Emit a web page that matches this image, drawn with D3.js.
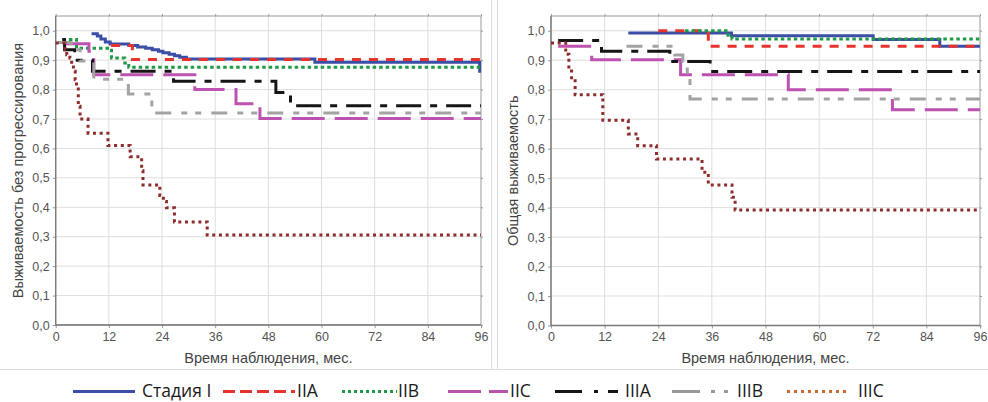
<!DOCTYPE html>
<html>
<head>
<meta charset="utf-8">
<script src="https://cdn.jsdelivr.net/npm/d3@7"></script>
<style>
  html, body { margin: 0; padding: 0; background: #fff; }
  svg { display: block; }
</style>
</head>
<body>
<svg id="chart" width="988" height="402"></svg>
<script>
// ---- Axis ticks and labels ----
const monthTicks = [0, 12, 24, 36, 48, 60, 72, 84, 96];
const probTicks = [0, 0.1, 0.2, 0.3, 0.4, 0.5, 0.6, 0.7, 0.8, 0.9, 1.0];
const probLabels = ["0,0", "0,1", "0,2", "0,3", "0,4", "0,5", "0,6", "0,7", "0,8", "0,9", "1,0"];
const xTitle = "Время наблюдения, мес.";
const pfsTitle = "Выживаемость без прогрессирования";
const osTitle = "Общая выживаемость";
const seriesNames = ["Стадия I", "IIA", "IIB", "IIC", "IIIA", "IIIB", "IIIC"];

// ---- Progression-free survival, [month, proportion] step points ----
const pfsI = [[8.1, 0.99], [9.4, 0.982], [10.2, 0.972], [11.2, 0.962], [12.3, 0.955], [16.5, 0.95],
  [18.5, 0.945], [20.3, 0.94], [21.8, 0.935], [23.2, 0.93], [24.2, 0.925], [25.6, 0.92],
  [26.8, 0.915], [28, 0.91], [29.5, 0.904], [58.5, 0.893], [95.7, 0.862], [96, 0.862]];
const pfsIIA = [[12.5, 0.95], [17.3, 0.902], [96, 0.902]];
const pfsIIB = [[1.5, 0.97], [4.7, 0.94], [12.6, 0.907], [15.6, 0.89], [16.5, 0.876], [96, 0.876]];
const pfsIIC = [[2.2, 0.956], [7.5, 0.93], [8.6, 0.85], [31.4, 0.80], [40.7, 0.752], [46.1, 0.702], [96, 0.702]];
const pfsIIIA = [[1.5, 0.97], [2.0, 0.935], [4.3, 0.90], [8.3, 0.862], [26.6, 0.828], [49.7, 0.79], [53, 0.745], [96, 0.745]];
const pfsIIIB = [[0.5, 0.96], [3.5, 0.935], [5.5, 0.897], [8.6, 0.835], [16.4, 0.785], [21.7, 0.72], [96, 0.72]];
const pfsIIIC = [[0, 0.958], [2.1, 0.935], [2.5, 0.918], [3.2, 0.907], [3.6, 0.884], [4.0, 0.862],
  [4.4, 0.833], [4.7, 0.811], [5.1, 0.743], [5.5, 0.70], [7.3, 0.652], [11.8, 0.61], [16.8, 0.572],
  [19.4, 0.524], [19.7, 0.476], [23.5, 0.44], [24.3, 0.42], [25.0, 0.398], [26.8, 0.35],
  [34.2, 0.306], [96, 0.306]];

// ---- Overall survival, [month, proportion] step points ----
const osI = [[17.3, 0.992], [40.4, 0.983], [72.1, 0.97], [87, 0.947], [96, 0.947]];
const osIIA = [[24, 1.0], [35.2, 0.947], [96, 0.947]];
const osIIB = [[30, 1.0], [39.6, 0.985], [40.5, 0.972], [96, 0.972]];
const osIIC = [[1.6, 0.947], [9.1, 0.902], [29, 0.851], [53.1, 0.80], [76.4, 0.732], [96, 0.732]];
const osIIIA = [[1.6, 0.967], [11.3, 0.93], [26.6, 0.896], [35.6, 0.862], [96, 0.862]];
const osIIIB = [[16.9, 0.947], [27.7, 0.918], [29.5, 0.896], [30.5, 0.84], [31.1, 0.768], [96, 0.768]];
const osIIIC = [[0, 0.958], [3.3, 0.92], [4.0, 0.87], [4.6, 0.83], [5.4, 0.783], [11.6, 0.696],
  [17.3, 0.65], [19.4, 0.61], [23.6, 0.565], [33.8, 0.52], [35.2, 0.477], [40.5, 0.435],
  [41.2, 0.392], [96, 0.392]];

// ---- Line styles per stage ----
const lineStyles = [
  { color: "#3b4ea6", dash: null },
  { color: "#e5332e", dash: "9,8" },
  { color: "#1f9a46", dash: "3.5,3" },
  { color: "#bd52b1", dash: "33,10" },
  { color: "#151515", dash: "25,9,7,9" },
  { color: "#a3a3a3", dash: "16,10,6,8,6,10" },
  { color: "#8c2c2c", dash: "3,3.7" }
];
const legendStyles = [
  { color: "#3b4ea6", dash: null },
  { color: "#e5332e", dash: "12,5" },
  { color: "#1f9a46", dash: "3,3" },
  { color: "#b653ad", dash: "33,8" },
  { color: "#151515", dash: "27,12,4,10,10,60" },
  { color: "#999999", dash: "28,11,4,9,4,60" },
  { color: "#c96b2e", dash: "3,4" }
];
// legend slot layout: sample line start/end and label x
const legendLayout = [
  [73, 135, 142], [223, 295, 297], [342, 397, 398], [448, 508, 510],
  [555, 618, 625], [672, 730, 737], [787, 850, 858]
];

const svg = d3.select("#chart");
const tickFont = "'Liberation Sans', Arial, sans-serif";

const panels = [
  { series: [pfsI, pfsIIA, pfsIIB, pfsIIC, pfsIIIA, pfsIIIB, pfsIIIC], yTitle: pfsTitle,
    left: 55.7, right: 481, top: 16, bottom: 325, yTitleX: 18 },
  { series: [osI, osIIA, osIIB, osIIC, osIIIA, osIIIB, osIIIC], yTitle: osTitle,
    left: 551, right: 980, top: 16, bottom: 325.5, yTitleX: 513 }
];

// panel separators
const sep = svg.append("g").attr("stroke", "#dcdcdc").attr("stroke-width", 1);
sep.append("line").attr("x1", 491.5).attr("x2", 491.5).attr("y1", 0).attr("y2", 369);
sep.append("line").attr("x1", 497.5).attr("x2", 497.5).attr("y1", 0).attr("y2", 369);
sep.append("line").attr("x1", 0).attr("x2", 988).attr("y1", 369.5).attr("y2", 369.5);

panels.forEach(p => {
  const x = d3.scaleLinear().domain([0, 96]).range([p.left, p.right]);
  const y = d3.scaleLinear().domain([0, 1.05]).range([p.bottom, p.top]);
  const g = svg.append("g");

  // grid
  const grid = g.append("g").attr("stroke", "#dedede").attr("stroke-width", 1);
  grid.selectAll(".gx").data(monthTicks.slice(1, -1)).join("line")
    .attr("x1", d => x(d)).attr("x2", d => x(d)).attr("y1", p.top).attr("y2", p.bottom);
  grid.selectAll(".gy").data(probTicks.slice(1)).join("line")
    .attr("x1", p.left).attr("x2", p.right).attr("y1", d => y(d)).attr("y2", d => y(d));

  // axes
  const fmtY = d => probLabels[probTicks.indexOf(d)];
  const ax = g.append("g").attr("transform", `translate(0,${p.bottom})`)
    .call(d3.axisBottom(x).tickValues(monthTicks).tickSize(3).tickPadding(4));
  const ay = g.append("g").attr("transform", `translate(${p.left},0)`)
    .call(d3.axisLeft(y).tickValues(probTicks).tickFormat(fmtY).tickSize(3).tickPadding(3));
  const at = g.append("g").attr("transform", `translate(0,${p.top})`)
    .call(d3.axisTop(x).tickValues(monthTicks).tickSize(2).tickFormat(""));
  const ar = g.append("g").attr("transform", `translate(${p.right},0)`)
    .call(d3.axisRight(y).tickValues(probTicks).tickSize(2).tickFormat(""));
  [ax, ay, at, ar].forEach(a => {
    a.select(".domain").remove();
    a.selectAll("line").attr("stroke", "#999");
    a.selectAll("text").attr("fill", "#555")
      .style("font-family", tickFont).style("font-size", "12.5px");
  });

  // frame
  g.append("rect").attr("x", p.left).attr("y", p.top)
    .attr("width", p.right - p.left).attr("height", p.bottom - p.top)
    .attr("fill", "none").attr("stroke", "#9a9a9a").attr("stroke-width", 1);
  g.append("path").attr("d", `M${p.left},${p.top}V${p.bottom}H${p.right}`)
    .attr("fill", "none").attr("stroke", "#7a7a7a").attr("stroke-width", 1.3);

  // survival step curves
  const line = d3.line().x(d => x(d[0])).y(d => y(d[1])).curve(d3.curveStepAfter);
  p.series.forEach((s, i) => {
    g.append("path").attr("d", line(s)).attr("fill", "none")
      .attr("stroke", lineStyles[i].color).attr("stroke-width", 3)
      .attr("stroke-dasharray", lineStyles[i].dash);
  });

  // axis titles
  g.append("text").attr("x", (p.left + p.right) / 2).attr("y", 363)
    .attr("text-anchor", "middle").attr("fill", "#444")
    .style("font-family", tickFont).style("font-size", "14.5px")
    .text(xTitle);
  g.append("text").attr("transform", `translate(${p.yTitleX + 5},${(p.top + p.bottom) / 2}) rotate(-90)`)
    .attr("text-anchor", "middle").attr("fill", "#444")
    .style("font-family", tickFont).style("font-size", "14.5px")
    .text(p.yTitle);
});

// legend
const lg = svg.append("g");
seriesNames.forEach((name, i) => {
  const [x1, x2, tx] = legendLayout[i];
  lg.append("line").attr("x1", x1).attr("x2", x2).attr("y1", 391.5).attr("y2", 391.5)
    .attr("stroke", legendStyles[i].color).attr("stroke-width", 3.2)
    .attr("stroke-dasharray", legendStyles[i].dash);
  lg.append("text").attr("x", tx).attr("y", 397).attr("fill", "#1a1a1a")
    .style("font-family", "'Open Sans', sans-serif").style("font-size", "17.5px")
    .text(name);
});
</script>
</body>
</html>
